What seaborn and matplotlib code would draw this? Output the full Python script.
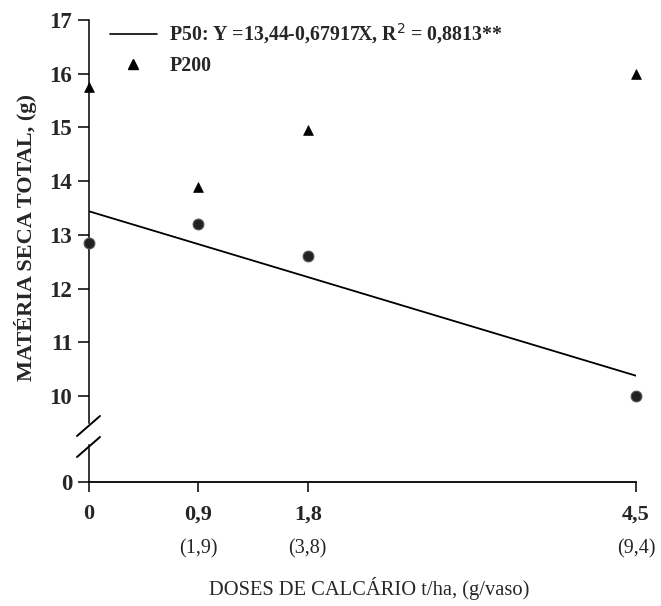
import matplotlib
matplotlib.use("Agg")
import matplotlib.pyplot as plt
import seaborn as sns
import pandas as pd
from matplotlib.lines import Line2D

sns.set_theme(style="white")
plt.rcParams['font.family'] = ['Liberation Serif', 'DejaVu Serif']

doses = [0, 0.9, 1.8, 4.5]
p50 = [12.85, 13.2, 12.6, 10.0]
p200 = [15.75, 13.9, 14.95, 16.0]
line_x = [0, 4.5]
line_y = [13.44, 10.38]
x_ticklabels = ["0", "0,9", "1,8", "4,5"]
x_sublabels = ["", "(1,9)", "(3,8)", "(9,4)"]
y_ticks = [10, 11, 12, 13, 14, 15, 16, 17]
legend_p50 = "P50: Y =13,44-0,67917X, R$^2$ = 0,8813**"
legend_p200 = "P200"

df = pd.DataFrame({"dose": doses, "p50": p50, "p200": p200})
df_line = pd.DataFrame({"x": line_x, "y": line_y})

W, H = 661, 606
fig = plt.figure(figsize=(W / 100, H / 100), dpi=100)

left = 89 / W
right = 636 / W
top_px, brk_top, brk_bot, zero_px = 20, 423, 445, 482

ax = fig.add_axes([left, 1 - brk_top / H, right - left, (brk_top - top_px) / H])
axb = fig.add_axes([left, 1 - zero_px / H, right - left, (zero_px - brk_bot) / H])

for a in (ax, axb):
    a.set_facecolor("none")
    a.set_xlim(0, 4.5)
    for s in ("top", "right"):
        a.spines[s].set_visible(False)
    a.spines["left"].set_color("black")
    a.spines["left"].set_linewidth(1.1)

ax.spines["bottom"].set_visible(False)
axb.spines["bottom"].set_color("black")
axb.spines["bottom"].set_linewidth(1.3)

# data
sns.lineplot(data=df_line, x="x", y="y", ax=ax, color="black", linewidth=1.3, legend=False)
sns.scatterplot(data=df, x="dose", y="p50", ax=ax, marker="o", s=60, color="#222222",
                edgecolor="#555555", linewidth=0.8, clip_on=False, zorder=5)
sns.scatterplot(data=df, x="dose", y="p200", ax=ax, marker="^", s=50, color="black",
                edgecolor="black", linewidth=0.5, clip_on=False, zorder=5)

tick_font = {"fontweight": "bold", "fontsize": 16.5}

ax.set_ylim(9.5, 17)
ax.set_yticks(y_ticks)
ax.set_yticklabels([str(v) for v in y_ticks], **tick_font)
ax.set_xticks([])
ax.set_xlabel("")
ax.set_ylabel("MATÉRIA SECA TOTAL, (g)", fontsize=16, fontweight="bold")
ax.yaxis.set_label_coords(-0.117, 0.46)
ax.yaxis.label.set_va("center")
ax.tick_params(axis="y", direction="out", length=8, width=1.1, color="black", pad=4, left=True)

axb.set_ylim(0, (zero_px - brk_bot) / 53.7)
axb.set_yticks([0])
axb.set_yticklabels(["0"], **tick_font)
axb.set_xticks(doses)
axb.set_xticklabels(x_ticklabels, fontweight="bold", fontsize=16)
axb.tick_params(axis="y", direction="out", length=8, width=1.1, color="black", pad=4, left=True)
axb.tick_params(axis="x", direction="out", length=7, width=1.1, color="black", pad=9, bottom=True)
axb.set_ylabel("")
axb.set_xlabel("DOSES DE CALCÁRIO t/ha, (g/vaso)", fontsize=14.8)
axb.xaxis.set_label_coords((370 - 89) / 548, -(588 - 482) / 37)
axb.xaxis.label.set_va("center")

for xv, lab in zip(doses, x_sublabels):
    if lab:
        axb.annotate(lab, xy=(xv, 0), xycoords=("data", "axes fraction"),
                     xytext=(0, -48), textcoords="offset points",
                     ha="center", va="center", fontsize=14.5)

# axis break marks
def fx(px):
    return px / W
def fy(py):
    return 1 - py / H
for cy in (426, 447):
    fig.add_artist(Line2D([fx(77), fx(100)], [fy(cy + 10), fy(cy - 10)],
                          color="black", linewidth=1.4, transform=fig.transFigure))

# legend
handles = [Line2D([], [], color="black", linewidth=1.2),
           Line2D([], [], color="black", marker="^", linestyle="none", markersize=7)]
leg = ax.legend(handles, [legend_p50, legend_p200], loc="upper left",
                bbox_to_anchor=(0.005, 1.04), frameon=False, handlelength=2.4,
                handletextpad=0.6, labelspacing=0.5,
                prop={"family": "Liberation Serif", "weight": "bold", "size": 14.3})

fig.savefig("out.png", dpi=100)
